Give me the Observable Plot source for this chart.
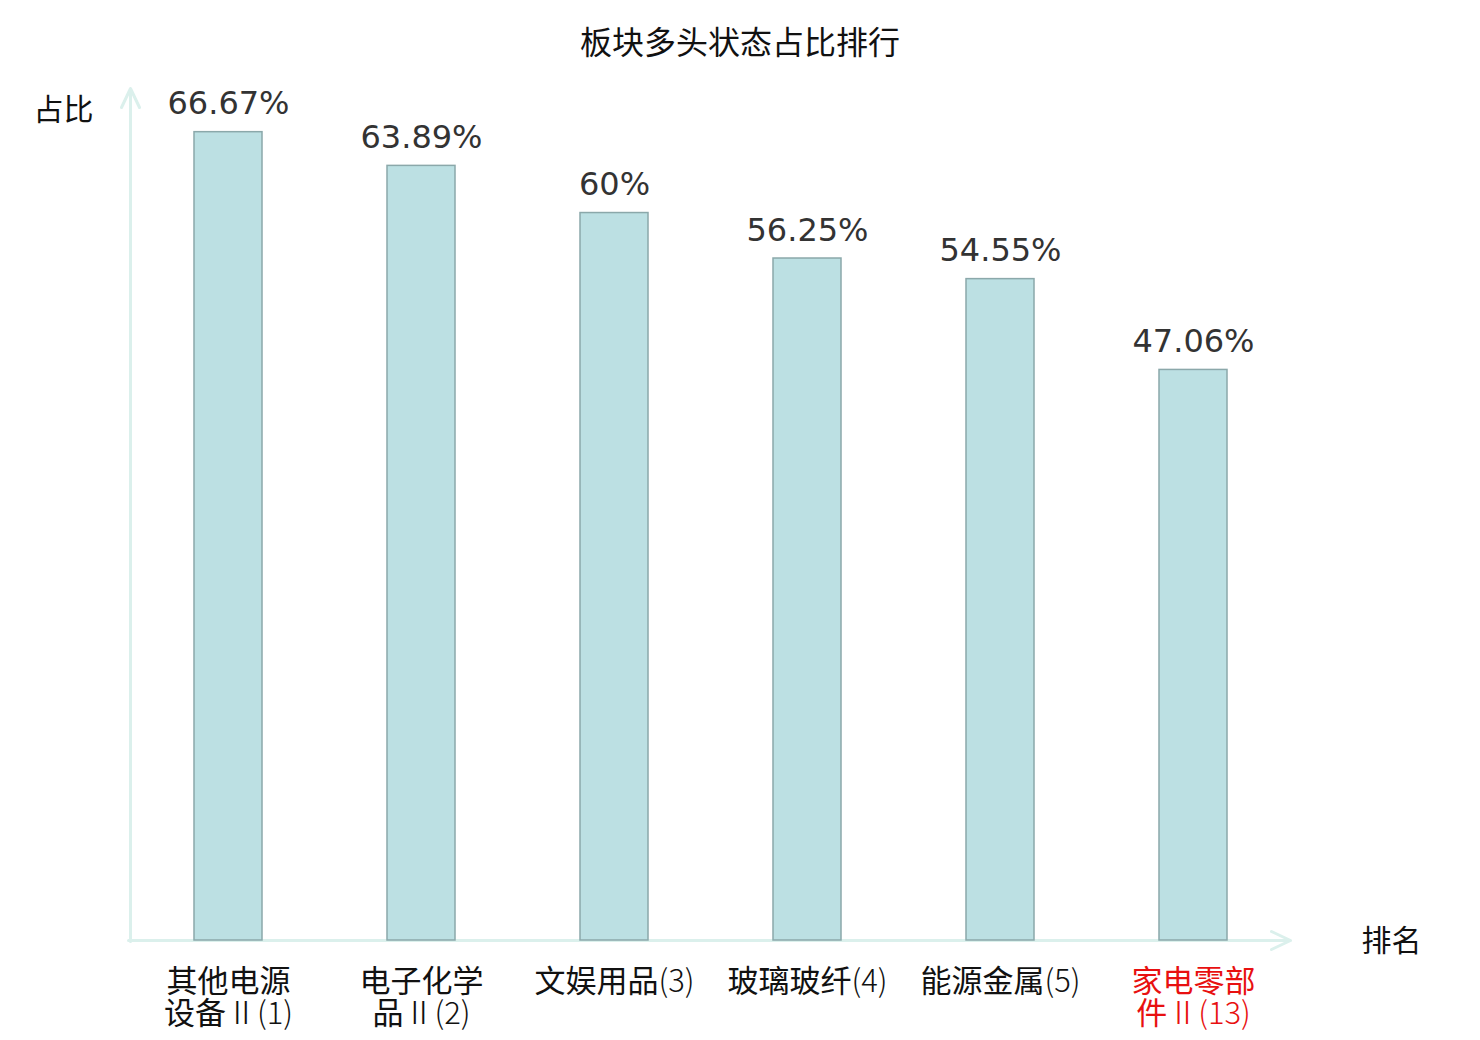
<!DOCTYPE html>
<html>
<head>
<meta charset="utf-8">
<script src="https://cdn.jsdelivr.net/npm/d3@7"></script>
<script src="https://cdn.jsdelivr.net/npm/@observablehq/plot@0.6"></script>
<style>
  body { margin: 0; background: #fff; width: 1480px; height: 1040px; overflow: hidden; }
  #title { height: 70px; box-sizing: border-box; padding-top: 12px; text-align: center;
    font: 32px "Noto Sans CJK SC", "DejaVu Sans", sans-serif; color: #111; line-height: 56px; }
</style>
</head>
<body>
<div id="title">板块多头状态占比排行</div>
<div id="chart"></div>
<script>
const names = ["其他电源设备Ⅱ", "电子化学品Ⅱ", "文娱用品", "玻璃玻纤", "能源金属", "家电零部件Ⅱ"];
const ranks = [1, 2, 3, 4, 5, 13];
const values = [66.67, 63.89, 60, 56.25, 54.55, 47.06];
const highlight = [false, false, false, false, false, true];
const yLabel = "占比";
const xLabel = "排名";

const labels = names.map((n, i) => {
  const full = `${n}(${ranks[i]})`;
  return n.length > 4 ? n.slice(0, 4) + "\n" + n.slice(4) + `(${ranks[i]})` : full;
});
const data = names.map((n, i) => ({name: n, label: labels[i], value: values[i], hl: highlight[i]}));

const axisColor = "#dbf0ec";
const arrowShape = {
  draw(context, l) {
    context.moveTo(0, 0);
    context.lineTo(0, -l);
    context.moveTo(-9, -l + 19);
    context.lineTo(0, -l);
    context.lineTo(9, -l + 19);
  }
};

const chart = Plot.plot({
  width: 1480,
  height: 970,
  marginLeft: 130,
  marginRight: 190,
  marginTop: 21.3,
  marginBottom: 100,
  style: {fontFamily: "'DejaVu Sans', 'Noto Sans CJK SC', sans-serif", fontSize: "30px", background: "white", overflow: "visible"},
  x: {domain: names, paddingInner: 0.648, paddingOuter: 0.324, axis: null},
  y: {domain: [0, 70], axis: null},
  marks: [
    Plot.vector([0], {frameAnchor: "bottom-left", anchor: "start", length: 853, rotate: 0, dy: 1, shape: arrowShape, stroke: axisColor, strokeWidth: 3}),
    Plot.vector([0], {frameAnchor: "bottom-left", anchor: "start", length: 1162, rotate: 90, dx: -2, dy: 0, shape: arrowShape, stroke: axisColor, strokeWidth: 3}),
    Plot.barY(data, {x: "name", y: "value", fill: "#bce0e3", stroke: "#8ba8aa", strokeWidth: 1.5}),
    Plot.text(data, {x: "name", y: "value", text: d => `${d.value}%`, dy: -28, fill: "#333", fontSize: 32, fontFamily: "'DejaVu Sans', sans-serif"}),
    Plot.text(data, {x: "name", frameAnchor: "bottom", text: "label", dy: 29, textAnchor: "middle", lineAnchor: "top", lineHeight: 1.03,
      fill: d => d.hl ? "#e81010" : "#111", fontSize: 31, className: "ticklabels", fontFamily: "'Noto Sans CJK SC', sans-serif"}),
    Plot.text([yLabel], {frameAnchor: "top-left", text: d => d, dx: -67, dy: 19, textAnchor: "middle", lineAnchor: "middle", fill: "#111", fontSize: 30, fontFamily: "'Noto Sans CJK SC', sans-serif"}),
    Plot.text([xLabel], {frameAnchor: "bottom-right", text: d => d, dx: 101, dy: 1, textAnchor: "middle", lineAnchor: "middle", fill: "#111", fontSize: 30, fontFamily: "'Noto Sans CJK SC', sans-serif"})
  ]
});

// render the Latin part of each tick label (Ⅱ, parentheses, rank) in a lighter weight
const ns = "http://www.w3.org/2000/svg";
chart.querySelectorAll(".ticklabels text").forEach(t => {
  const spans = t.querySelectorAll("tspan");
  const targets = spans.length ? Array.from(spans) : [t];
  targets.forEach(el => {
    const s = el.textContent;
    while (el.firstChild) el.removeChild(el.firstChild);
    s.split(/([Ⅱ()0-9]+)/).forEach(part => {
      if (!part) return;
      if (/^[Ⅱ()0-9]+$/.test(part)) {
        const ts = document.createElementNS(ns, "tspan");
        ts.setAttribute("font-weight", "300");
        ts.textContent = part;
        el.appendChild(ts);
      } else {
        el.appendChild(document.createTextNode(part));
      }
    });
  });
});
document.getElementById("chart").appendChild(chart);
</script>
</body>
</html>
